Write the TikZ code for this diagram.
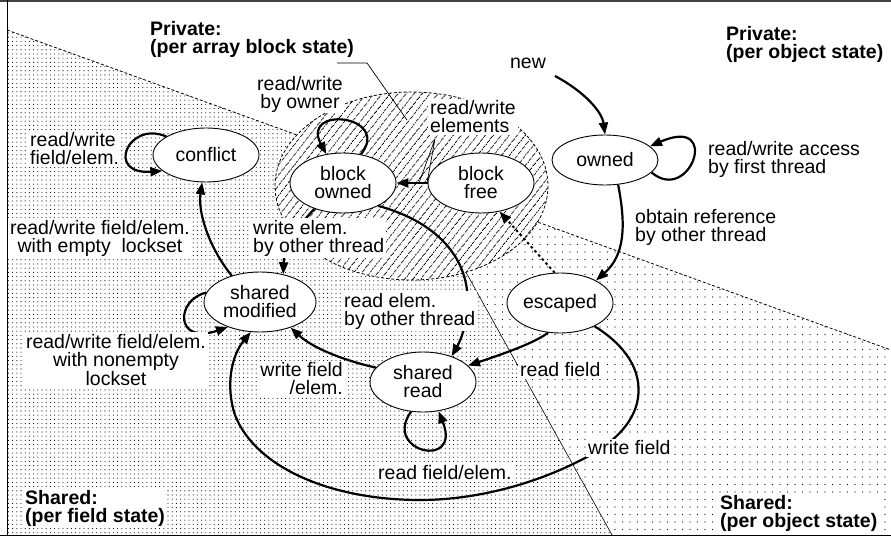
\documentclass[tikz,border=0pt]{standalone}
\usepackage{fontspec}
\setmainfont{Liberation Sans}
\usetikzlibrary{arrows.meta,patterns.meta,shapes.geometric}
\begin{document}
\begin{tikzpicture}[x=1pt,y=-1pt,
  every node/.style={font=\fontsize{19.5}{18}\selectfont},
  state/.style={draw, line width=0.9pt, ellipse, fill=white, inner sep=0pt,
    minimum width=106pt, minimum height=60pt, align=center},
  lbl/.style={fill=white, inner sep=2pt, align=left},
  lblc/.style={fill=white, inner sep=2pt, align=center},
  plain/.style={inner sep=2pt, align=left},
  region/.style={inner sep=2pt, align=left, font=\fontsize{19.5}{18}\selectfont\bfseries},
  tr/.style={line width=2.2pt, -{Triangle[length=12pt,width=9pt]}},
  thinline/.style={line width=0.7pt},
  bound/.style={line width=0.8pt, dash pattern=on 3pt off 2pt},
]
\useasboundingbox (0,0) rectangle (891,537);
\fill[white] (0,0) rectangle (891,537);
% shared regions
\fill[pattern={Dots[distance=4.2pt, radius=0.55pt]}] (7,30) -- (413,177) -- (612,535) -- (7,535) -- cycle;
\fill[pattern={Dots[distance=7.5pt, radius=0.6pt]}] (413,177) -- (891,350) -- (891,535) -- (612,535) -- cycle;
\draw[bound] (7,30) -- (891,350);
\draw[line width=0.6pt] (413,177) -- (612,535);
% private array-block region
\fill[white] (411.5,186) ellipse [x radius=136.5, y radius=94];
\fill[pattern={Lines[angle=52, distance=6.5pt, line width=0.9pt]}] (411.5,186) ellipse [x radius=136.5, y radius=94];
\draw[bound] (411.5,186) ellipse [x radius=136.5, y radius=94];
% frame
\draw[line width=2pt, black!75] (0,1) -- (891,1);
\draw[line width=0.8pt] (7,0) -- (7,535.5) -- (891,535.5);
\draw[line width=0.8pt] (0,535.5) -- (7,535.5);

% states
\node[state, minimum height=54pt] (conflict) at (206,155) {conflict};
\node[state, minimum height=50pt] (owned) at (605,160) {owned};
\node[state] (bo) at (343,183) {block\\owned};
\node[state] (bf) at (481,183) {block\\free};
\node[state] (esc) at (560,303) {escaped};
\node[state, minimum width=112pt] (sm) at (260,302) {shared\\modified};
\node[state] (sr) at (423,382) {shared\\read};

% free ends
\coordinate (newstart) at (555,76);
\coordinate (pa1) at (337,63);
\coordinate (pa2) at (367,63);
\coordinate (pa3) at (407,120);
\coordinate (v0) at (435,139);
\coordinate (v1) at (419,183);
\coordinate (v2) at (427,183);

% transitions
\draw[tr] (newstart) .. controls (585,92) and (602,112) .. (owned.north);
\draw[tr] (owned.-15) .. controls (690,205) and (722,115) .. (owned.17);
\draw[tr] (owned.-62) .. controls (626,225) and (625,255) .. (esc.32);
\draw[tr] (esc.-112) .. controls (535,343) and (500,355) .. (sr.20);
\draw[tr] (esc.-34) .. controls (625,345) and (642,370) .. (638,398)
   .. controls (634,425) and (610,445) .. (585,458)
   .. controls (530,487) and (470,500) .. (420,500)
   .. controls (330,500) and (255,467) .. (235,415)
   .. controls (225,385) and (232,355) .. (sm.-107);
\draw[tr] (sr.-112) .. controls (382,452) and (462,470) .. (sr.-62);
\draw[tr] (sr.163) .. controls (350,362) and (315,350) .. (sm.-40);
\draw[tr] (sm.170) .. controls (175,300) and (175,345) .. (sm.-142);
\draw[tr] (sm.137) .. controls (207,245) and (198,210) .. (conflict.-98);
\draw[tr] (conflict.155) .. controls (128,120) and (105,175) .. (conflict.-160);
\draw[tr] (bo.58) .. controls (392,115) and (300,105) .. (bo.120);
\draw[tr] (bf.west) -- (bo.east);
\draw[tr] (bo.-33) .. controls (430,220) and (462,250) .. (467,290)
   .. controls (470,315) and (462,338) .. (sr.42);
\draw[tr] (bo.-138) .. controls (290,235) and (284,250) .. (sm.50);
\draw[line width=2pt, dash pattern=on 2.5pt off 3pt, -{Triangle[length=12pt,width=9pt]}] (esc.100) -- (bf.-57);

% labels
\node[region, anchor=west] (pab) at (148,39) {Private:\\(per array block state)};
\node[region, anchor=west] (pos) at (724,44) {Private:\\(per object state)};
\node[region, fill=white, anchor=west] (sfs) at (23,508) {Shared:\\(per field state)};
\node[region, fill=white, anchor=west] (sos) at (718,513) {Shared:\\(per object state)};
\node[plain] (new) at (528,63) {new};
\node[plain, anchor=west] (l6) at (706,159) {read/write access\\by first thread};
\node[plain, anchor=west] (l7) at (633,227) {obtain reference\\by other thread};
\node[lblc, inner sep=1pt] (l8) at (300,94) {read/write\\by owner};
\node[lbl, anchor=west] (l9) at (428,117) {read/write\\elements};
\node[lbl, anchor=west] (l10) at (28,149) {read/write\\field/elem.};
\node[lblc] (l11) at (100,238) {read/write field/elem.\\with empty\ \ lockset};
\node[lbl, anchor=west] (l12) at (251,238) {write elem.\\by other thread};
\node[lbl, anchor=west] (l13) at (342,311) {read elem.\\by other thread};
\node[lblc] (l14) at (116,360) {read/write field/elem.\\with nonempty\\lockset};
\node[lbl, align=right, anchor=east] (l15) at (345,379) {write field\\/elem.};
\node[lbl, anchor=west] (l16) at (518,370) {read field};
\node[lbl, anchor=west] (l17) at (586,448) {write field};
\node[lbl, anchor=west] (l18) at (376,473) {read field/elem.};

% callouts
\draw[thinline] (pa1) -- (pa2) -- (pa3);
\draw[thinline] (v1) -- (v0) -- (v2);
\end{tikzpicture}
\end{document}
